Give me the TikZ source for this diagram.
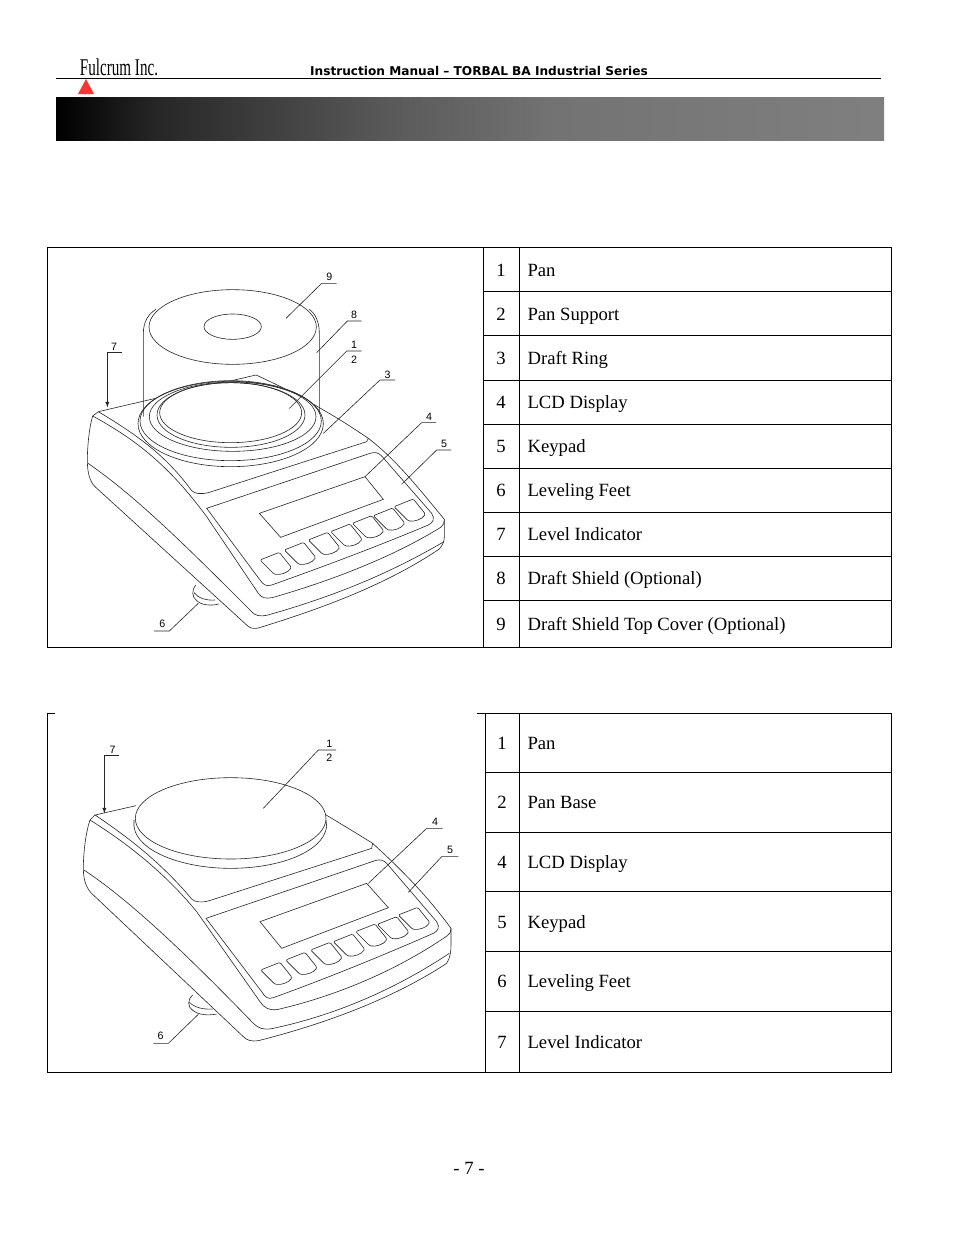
\documentclass[tikz,border=0pt]{standalone}
\usepackage{fontspec}
\setmainfont{Liberation Serif}
\newfontfamily\callfont{Liberation Sans}
\newfontfamily\headfont{DejaVu Sans}
\definecolor{inkgray}{gray}{0.15}
\pgfdeclarehorizontalshading{headband}{100bp}{color(0bp)=(black); color(25bp)=(black); color(31bp)=(black!85); color(45bp)=(black!65); color(55bp)=(black!55); color(75bp)=(black!50); color(100bp)=(black!50)}
\tikzset{
  tablerule/.style={black,line width=0.7pt},
  outline/.style={inkgray,line width=0.45pt},
  leader/.style={inkgray,line width=0.45pt},
  calltext/.style={inner sep=0pt,font=\callfont\fontsize{8}{9}\selectfont,black},
  cellnum/.style={anchor=base,inner sep=0pt,font=\fontsize{14}{16}\selectfont},
  celltext/.style={anchor=base west,inner sep=0pt,font=\fontsize{14}{16}\selectfont},
  balekey/.pic={
    \draw[outline,rounded corners=1pt] (0,0) -- (58,-23) -- (94,22) .. controls (85,38) and (60,46) .. (42,42) -- cycle;
  }
}
\begin{document}
\begin{tikzpicture}[x=0.75pt,y=-0.75pt]
  \useasboundingbox (0,0) rectangle (954,1235);
  \fill[white] (0,0) rectangle (954,1235);
  % page head
  \node[xscale=0.63,font=\fontsize{18}{20}\selectfont,inner sep=0pt,anchor=base] (logo) at (119,75.5) {Fulcrum Inc.};
  \node[font=\headfont\bfseries\fontsize{9.1}{10}\selectfont,inner sep=0pt,anchor=base] (headline) at (479,75.5) {Instruction Manual – TORBAL BA Industrial Series};
  \draw[black,line width=1.1pt] (56,78.5) -- (881,78.5);
  \fill[red!80!white] (78,94) -- (94,94) -- (86,79) -- cycle;
  \shade[shading=headband] (56,97) rectangle (884,140);

  % upper table
  \draw[tablerule] (47,247) rectangle (891,647);
  \draw[tablerule] (483,247) -- (483,647)
                   (519,247) -- (519,647)
                   (483,291) -- (891,291)
                   (483,335) -- (891,335)
                   (483,380) -- (891,380)
                   (483,424) -- (891,424)
                   (483,468) -- (891,468)
                   (483,512) -- (891,512)
                   (483,556) -- (891,556)
                   (483,600) -- (891,600);
  \node[cellnum] (anum1) at (501,276) {1};
  \node[cellnum] (anum2) at (501,320) {2};
  \node[cellnum] (anum3) at (501,364) {3};
  \node[cellnum] (anum4) at (501,408) {4};
  \node[cellnum] (anum5) at (501,452) {5};
  \node[cellnum] (anum6) at (501,496) {6};
  \node[cellnum] (anum7) at (501,540) {7};
  \node[cellnum] (anum8) at (501,584) {8};
  \node[cellnum] (anum9) at (501,630) {9};
  \node[celltext] (atxt1) at (527.3,276) {Pan};
  \node[celltext] (atxt2) at (527.3,320) {Pan Support};
  \node[celltext] (atxt3) at (527.3,364) {Draft Ring};
  \node[celltext] (atxt4) at (527.3,408) {LCD Display};
  \node[celltext] (atxt5) at (527.3,452) {Keypad};
  \node[celltext] (atxt6) at (527.3,496) {Leveling Feet};
  \node[celltext] (atxt7) at (527.3,540) {Level Indicator};
  \node[celltext] (atxt8) at (527.3,584) {Draft Shield (Optional)};
  \node[celltext] (atxt9) at (527.3,630) {Draft Shield Top Cover (Optional)};

  % lower table
  \draw[tablerule] (55,713) -- (47,713) -- (47,1072) -- (891,1072) -- (891,713) -- (477,713);
  \draw[tablerule] (485,713) -- (485,1072)
                   (519,713) -- (519,1072)
                   (485,772) -- (891,772)
                   (485,832) -- (891,832)
                   (485,891) -- (891,891)
                   (485,951) -- (891,951)
                   (485,1011) -- (891,1011);
  \node[cellnum] (bnum1) at (502,749) {1};
  \node[cellnum] (bnum2) at (502,808) {2};
  \node[cellnum] (bnum4) at (502,868) {4};
  \node[cellnum] (bnum5) at (502,928) {5};
  \node[cellnum] (bnum6) at (502,987) {6};
  \node[cellnum] (bnum7) at (502,1048) {7};
  \node[celltext] (btxt1) at (527.3,749) {Pan};
  \node[celltext] (btxt2) at (527.3,808) {Pan Base};
  \node[celltext] (btxt4) at (527.3,868) {LCD Display};
  \node[celltext] (btxt5) at (527.3,928) {Keypad};
  \node[celltext] (btxt6) at (527.3,987) {Leveling Feet};
  \node[celltext] (btxt7) at (527.3,1048) {Level Indicator};

  % balance with draft shield
  \begin{scope}[shift={(50,250)},x=0.25pt,y=-0.25pt]
    \draw[outline] (145,485) -- (618,375) .. controls (740,430) and (860,500) .. (955,565) -- (950,575)
                   -- (475,728) .. controls (455,733) and (435,732) .. (425,722)
                   .. controls (350,620) and (270,560) .. (145,485) -- (128,498)
                   .. controls (118,530) and (112,590) .. (112,630) .. controls (112,670) and (120,695) .. (135,710)
                   -- (590,1125) .. controls (600,1135) and (610,1137) .. (625,1134)
                   .. controls (800,1080) and (1000,1010) .. (1168,897) .. controls (1178,885) and (1183,875) .. (1183,860)
                   -- (1183,808) .. controls (1110,720) and (1040,630) .. (955,565);
    \draw[outline] (128,498) .. controls (260,570) and (360,650) .. (470,800) -- (625,1030)
                   .. controls (635,1045) and (650,1047) .. (670,1042)
                   .. controls (850,990) and (1030,920) .. (1172,832) .. controls (1180,826) and (1184,818) .. (1183,808);
    \draw[outline] (114,640) .. controls (260,740) and (420,900) .. (605,1085)
                   .. controls (615,1097) and (630,1100) .. (650,1096)
                   .. controls (850,1040) and (1020,970) .. (1180,876);
    \draw[outline] (470,775) -- (960,610) .. controls (975,605) and (985,608) .. (995,618)
                   -- (1145,790) .. controls (1155,805) and (1150,818) .. (1135,825)
                   .. controls (980,890) and (820,950) .. (665,1005) .. controls (650,1010) and (640,1005) .. (630,990) -- cycle;
    \draw[outline] (628,790) -- (945,680) -- (1000,748) -- (692,862) -- cycle;
    \pic at (630,930) {balekey};
    \pic at (703,900) {balekey};
    \pic at (775,870) {balekey};
    \pic at (842,845) {balekey};
    \pic at (907,820) {balekey};
    \pic at (970,797) {balekey};
    \pic at (1032,770) {balekey};
    % foot
    \draw[outline] (437,1005) .. controls (425,1020) and (425,1040) .. (440,1052) .. controls (455,1066) and (485,1068) .. (506,1062);
    \draw[outline] (432,1028) .. controls (445,1045) and (470,1052) .. (495,1050);
    % pan and rings
    \draw[outline,fill=white] (542,521) ellipse [x radius=278,y radius=129];
    \draw[outline] (542,513) ellipse [x radius=272,y radius=119];
    \draw[outline] (548,500) ellipse [x radius=250,y radius=104];
    \draw[outline] (543,495) ellipse [x radius=222,y radius=97];
    \draw[outline] (542,488) ellipse [x radius=213,y radius=90];
    % shield
    \draw[outline] (548,231) ellipse [x radius=251,y radius=112];
    \draw[outline] (548,230) ellipse [x radius=86,y radius=38];
    \draw[outline] (280,500) -- (280,250) .. controls (280,215) and (295,192) .. (318,178);
    \draw[outline] (808,490) -- (808,250) .. controls (808,215) and (795,190) .. (778,178);
    % callouts
    \coordinate (aend9) at (708,205);
    \coordinate (aend8) at (800,308);
    \coordinate (aend12) at (718,475);
    \coordinate (aend3) at (820,550);
    \coordinate (aend4) at (945,680);
    \coordinate (aend5) at (1055,703);
    \coordinate (aend6) at (445,1060);
    \coordinate (aend7) at (172,472);
    \node[calltext] (acall9) at (838,80) {9};
    \node[calltext] (acall8) at (912,195) {8};
    \node[calltext] (acall1) at (912,285) {1};
    \node[calltext] (acall2) at (912,330) {2};
    \node[calltext] (acall3) at (1013,375) {3};
    \node[calltext] (acall4) at (1137,500) {4};
    \node[calltext] (acall5) at (1182,582) {5};
    \node[calltext] (acall6) at (337,1120) {6};
    \node[calltext] (acall7) at (192,290) {7};
    \draw[leader] (860,100) -- (815,100) -- (aend9);
    \draw[leader] (935,213) -- (892,213) -- (aend8);
    \draw[leader] (935,303) -- (890,303) -- (aend12);
    \draw[leader] (1035,390) -- (990,390) -- (aend3);
    \draw[leader] (1158,518) -- (1115,518) -- (aend4);
    \draw[leader] (1203,600) -- (1160,600) -- (aend5);
    \draw[leader] (312,1143) -- (358,1143) -- (aend6);
    \draw[leader,-latex] (215,308) -- (172,308) -- (aend7);
  \end{scope}

  % balance with plain pan
  \begin{scope}[shift={(50,715)},x=0.25pt,y=-0.25pt]
    \draw[outline] (135,300) -- (258,272)
                   (820,295) .. controls (870,325) and (920,355) .. (968,385) -- (965,400)
                   -- (475,558) .. controls (455,563) and (435,562) .. (425,552)
                   .. controls (340,450) and (240,370) .. (135,300) -- (120,315)
                   .. controls (108,350) and (100,410) .. (100,460) .. controls (100,500) and (112,525) .. (130,540)
                   -- (580,965) .. controls (590,976) and (605,980) .. (625,977)
                   .. controls (830,925) and (1030,850) .. (1190,745) .. controls (1200,730) and (1203,710) .. (1203,690)
                   -- (1203,640) .. controls (1130,540) and (1050,460) .. (968,385);
    \draw[outline] (120,315) .. controls (240,390) and (350,480) .. (440,590) -- (630,860)
                   .. controls (640,878) and (660,888) .. (685,883)
                   .. controls (870,840) and (1050,760) .. (1192,662) .. controls (1200,656) and (1204,650) .. (1203,640);
    \draw[outline] (102,465) .. controls (260,570) and (450,760) .. (610,925)
                   .. controls (625,940) and (640,945) .. (665,941)
                   .. controls (860,900) and (1040,820) .. (1198,715);
    \draw[outline] (468,610) -- (975,437) .. controls (990,432) and (1000,435) .. (1010,445)
                   -- (1160,620) .. controls (1170,635) and (1165,648) .. (1150,655)
                   .. controls (990,725) and (830,790) .. (670,848) .. controls (655,853) and (645,848) .. (635,830) -- cycle;
    \draw[outline] (630,620) -- (950,505) -- (1015,578) -- (695,700) -- cycle;
    \pic at (632,765) {balekey};
    \pic at (707,735) {balekey};
    \pic at (782,705) {balekey};
    \pic at (850,680) {balekey};
    \pic at (917,650) {balekey};
    \pic at (982,628) {balekey};
    \pic at (1045,600) {balekey};
    % foot
    \draw[outline] (428,840) .. controls (412,855) and (412,875) .. (428,886) .. controls (445,900) and (475,902) .. (500,897);
    \draw[outline] (418,862) .. controls (435,878) and (460,884) .. (488,882);
    % pan
    \draw[outline,fill=white] (252,315) -- (252,335) .. controls (262,410) and (400,460) .. (541,460)
                   .. controls (690,460) and (820,410) .. (830,335) -- (828,315);
    \draw[outline,fill=white] (542,310) ellipse [x radius=286,y radius=122];
    % callouts
    \coordinate (bend12) at (640,280);
    \coordinate (bend4) at (955,505);
    \coordinate (bend5) at (1075,532);
    \coordinate (bend6) at (445,898);
    \coordinate (bend7) at (163,295);
    \node[calltext] (bcall1) at (838,85) {1};
    \node[calltext] (bcall2) at (838,127) {2};
    \node[calltext] (bcall4) at (1155,320) {4};
    \node[calltext] (bcall5) at (1200,405) {5};
    \node[calltext] (bcall6) at (332,962) {6};
    \node[calltext] (bcall7) at (188,103) {7};
    \draw[leader] (858,105) -- (805,105) -- (bend12);
    \draw[leader] (1178,340) -- (1130,340) -- (bend4);
    \draw[leader] (1225,425) -- (1175,425) -- (bend5);
    \draw[leader] (310,985) -- (355,985) -- (bend6);
    \draw[leader,-latex] (208,120) -- (163,120) -- (bend7);
  \end{scope}

  \node[font=\fontsize{14}{16}\selectfont,inner sep=0pt,anchor=base] (pageno) at (469,1174) {- 7 -};
\end{tikzpicture}
\end{document}
